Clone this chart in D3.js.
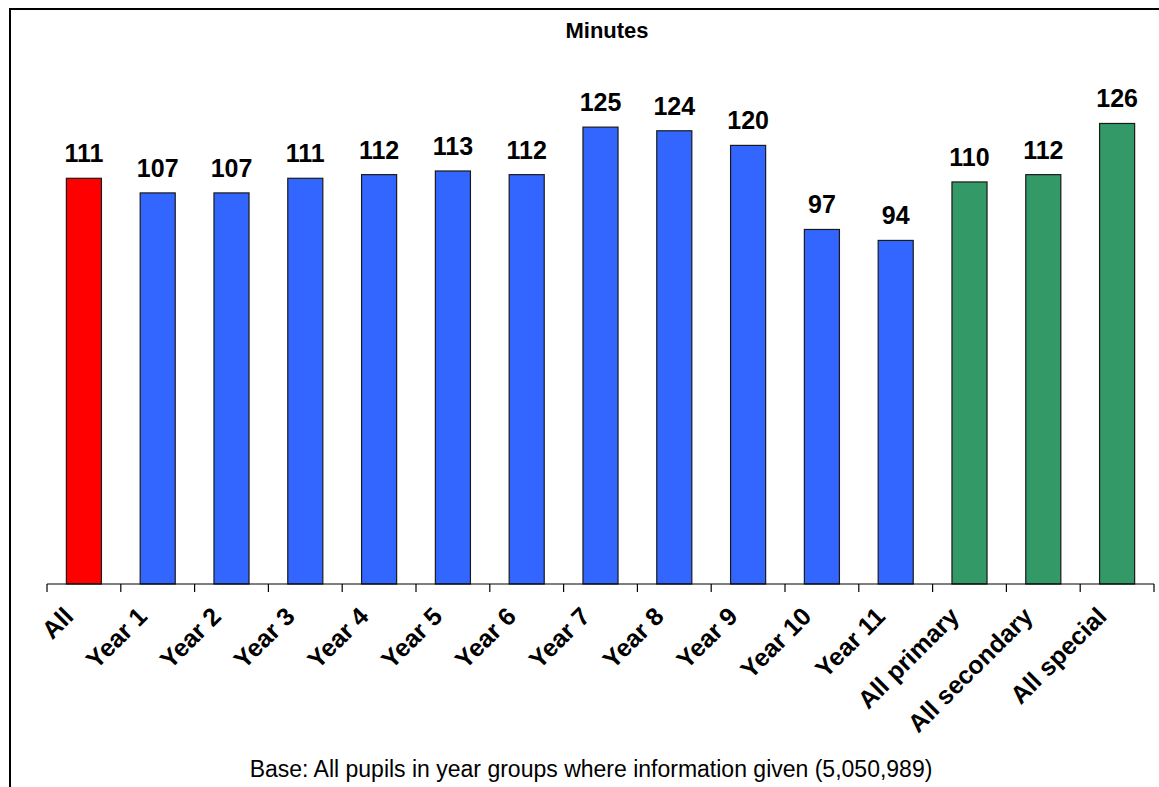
<!DOCTYPE html>
<html>
<head>
<meta charset="utf-8">
<script src="https://cdn.jsdelivr.net/npm/d3@7"></script>
<style>
  body { margin: 0; background: #fff; }
  svg { display: block; font-family: "Liberation Sans", Arial, sans-serif; }
</style>
</head>
<body>
<div class="chart"></div>
<script>
var width = 1159;
var height = 787;

// data
var categories = ["All", "Year 1", "Year 2", "Year 3", "Year 4", "Year 5", "Year 6",
                  "Year 7", "Year 8", "Year 9", "Year 10", "Year 11",
                  "All primary", "All secondary", "All special"];
var minutes = [111, 107, 107, 111, 112, 113, 112, 125, 124, 120, 97, 94, 110, 112, 126];
var groups = ["all", "year", "year", "year", "year", "year", "year",
              "year", "year", "year", "year", "year", "phase", "phase", "phase"];
var groupColours = {all: "#ff0000", year: "#3366ff", phase: "#339966"};

var svg = d3.select(".chart").append("svg")
    .attr("width", width)
    .attr("height", height);

// outer frame (runs off the right and bottom edges)
svg.append("rect")
    .attr("x", 10).attr("y", 9)
    .attr("width", 1200).attr("height", 820)
    .attr("fill", "none")
    .attr("stroke", "#000")
    .attr("stroke-width", 2);

var x = d3.scaleBand()
    .domain(categories)
    .range([47, 1154])
    .padding(0);

var y = d3.scaleLinear()
    .domain([0, 140])
    .range([584, 72.3]);

var barW = x.bandwidth() * 0.475;

svg.append("text")
    .attr("x", 607)
    .attr("y", 38)
    .attr("text-anchor", "middle")
    .attr("font-size", 22)
    .attr("font-weight", "bold")
    .text("Minutes");

var data = categories.map(function(c, i) {
  return {cat: c, value: minutes[i], group: groups[i]};
});

svg.append("g")
    .attr("class", "bars")
  .selectAll("rect")
  .data(data)
  .enter().append("rect")
    .attr("x", function(d) { return x(d.cat) + (x.bandwidth() - barW) / 2; })
    .attr("y", function(d) { return y(d.value); })
    .attr("width", barW)
    .attr("height", function(d) { return y(0) - y(d.value); })
    .attr("fill", function(d) { return groupColours[d.group]; })
    .attr("stroke", "#1a1a1a")
    .attr("stroke-width", 1.2);

svg.append("g")
    .attr("class", "values")
  .selectAll("text")
  .data(data)
  .enter().append("text")
    .attr("x", function(d) { return x(d.cat) + x.bandwidth() / 2; })
    .attr("y", function(d) { return y(d.value) - 16; })
    .attr("text-anchor", "middle")
    .attr("font-size", 25)
    .attr("font-weight", "bold")
    .text(function(d) { return d.value; });

// category axis with ticks between categories
var axis = svg.append("g").attr("class", "axis");
axis.append("line")
    .attr("x1", x.range()[0]).attr("x2", x.range()[1])
    .attr("y1", y(0)).attr("y2", y(0))
    .attr("stroke", "#000")
    .attr("stroke-width", 1.2);

axis.selectAll(".tick")
  .data(categories.map(function(c) { return x(c); }).concat([x.range()[1]]))
  .enter().append("line")
    .attr("class", "tick")
    .attr("x1", function(d) { return d; }).attr("x2", function(d) { return d; })
    .attr("y1", y(0)).attr("y2", y(0) + 8)
    .attr("stroke", "#000")
    .attr("stroke-width", 1.2);

axis.selectAll(".label")
  .data(categories)
  .enter().append("text")
    .attr("class", "label")
    .attr("transform", function(d) {
      return "translate(" + (x(d) + x.bandwidth() / 2 - 9) + ",618) rotate(-45)";
    })
    .attr("text-anchor", "end")
    .attr("font-size", 25)
    .attr("font-weight", "bold")
    .text(function(d) { return d; });

svg.append("text")
    .attr("x", 591)
    .attr("y", 777)
    .attr("text-anchor", "middle")
    .attr("font-size", 23)
    .text("Base: All pupils in year groups where information given (5,050,989)");
</script>
</body>
</html>
